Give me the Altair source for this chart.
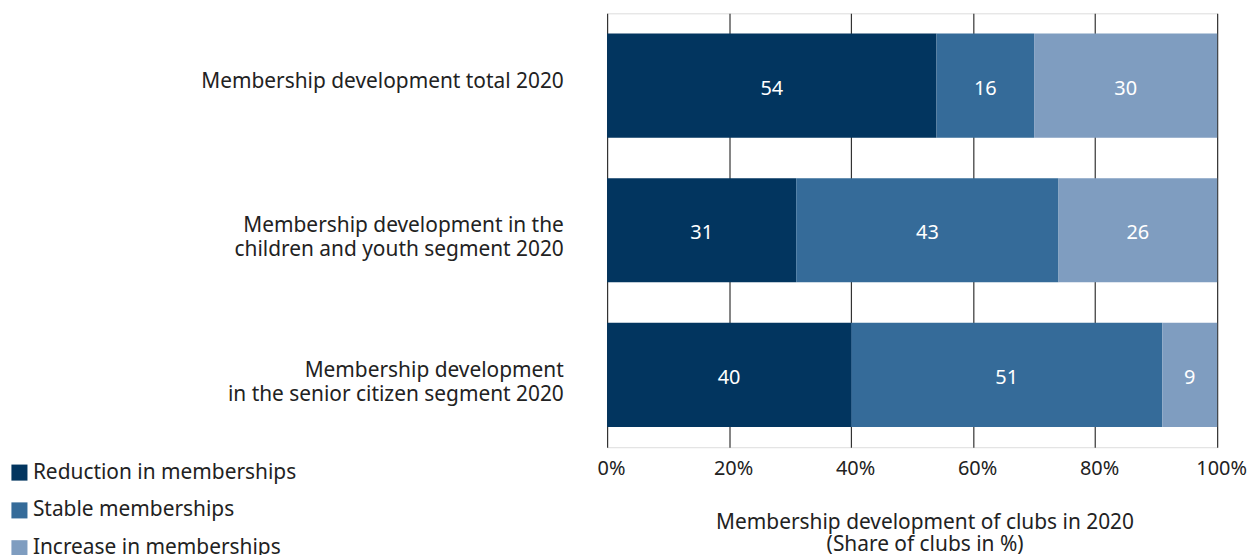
import altair as alt
import pandas as pd

categories = [
    "Membership development total 2020",
    "Membership development in the\nchildren and youth segment 2020",
    "Membership development\nin the senior citizen segment 2020",
]
series = ["Reduction in memberships", "Stable memberships", "Increase in memberships"]
reduction = [54, 31, 40]
stable = [16, 43, 51]
increase = [30, 26, 9]
colors = ["#02355f", "#356b99", "#7f9dc0"]
x_ticks = [0, 20, 40, 60, 80, 100]

rows = []
for i, cat in enumerate(categories):
    for j, (s, vals) in enumerate(zip(series, [reduction, stable, increase])):
        rows.append({"cat": cat, "series": s, "order": j, "value": vals[i]})
df = pd.DataFrame(rows)

FONT = "Noto Sans"

base = alt.Chart(df)

y_enc = alt.Y(
    "cat:N",
    sort=categories,
    scale=alt.Scale(paddingInner=0.28, paddingOuter=0.14),
    axis=alt.Axis(
        title=None,
        domain=False,
        ticks=False,
        labelExpr="split(datum.label, '\\n')",
        labelAlign="right",
        labelPadding=44,
        labelOffset=-4,
        labelFontSize=21,
        labelLineHeight=24,
        labelColor="#222222",
        labelFont=FONT,
        labelLimit=600,
    ),
)

bars = base.mark_bar().encode(
    x=alt.X(
        "value:Q",
        stack="zero",
        scale=alt.Scale(domain=[0, 100], nice=False),
        axis=alt.Axis(
            values=x_ticks,
            labelExpr="datum.value + '%'",
            labelFlush=False,
            labelOffset=4,
            grid=True,
            gridColor="#333333",
            gridWidth=1.2,
            gridOpacity=1,
            domain=False,
            ticks=False,
            labelPadding=11,
            labelFontSize=20,
            labelColor="#222222",
            labelFont=FONT,
            title=["Membership development of clubs in 2020", "(Share of clubs in %)"],
            titleFontSize=21,
            titleFontWeight="normal",
            titleColor="#222222",
            titleFont=FONT,
            titlePadding=34,
            titleLineHeight=22,
            titleX=319,
        ),
    ),
    y=y_enc,
    color=alt.Color(
        "series:N",
        sort=series,
        scale=alt.Scale(domain=series, range=colors),
        legend=alt.Legend(
            title=None,
            orient="none",
            legendX=-601,
            legendY=451,
            symbolType="square",
            symbolSize=260,
            symbolStrokeWidth=0,
            symbolOpacity=1,
            labelFontSize=21,
            labelFont=FONT,
            labelColor="#222222",
            labelLimit=400,
            rowPadding=16,
            labelOffset=3,
        ),
    ),
    order=alt.Order("order:Q"),
)

labels = base.transform_window(
    cum="sum(value)", sort=[alt.SortField("order")], groupby=["cat"]
).transform_calculate(
    mid="datum.cum - datum.value / 2"
).mark_text(color="white", fontSize=20, font=FONT, dy=3).encode(
    x=alt.X("mid:Q"),
    y=alt.Y("cat:N", sort=categories),
    text=alt.Text("value:Q"),
)

chart = (
    alt.layer(bars, labels)
    .properties(
        width=613,
        height=436,
        autosize=alt.AutoSizeParams(type="none"),
        padding={"left": 602, "top": 4, "right": 30, "bottom": 112},
    )
    .configure_view(stroke=None)
    .configure(background="white")
)

chart.save("out.html", embed_options={"renderer": "svg", "actions": False})
